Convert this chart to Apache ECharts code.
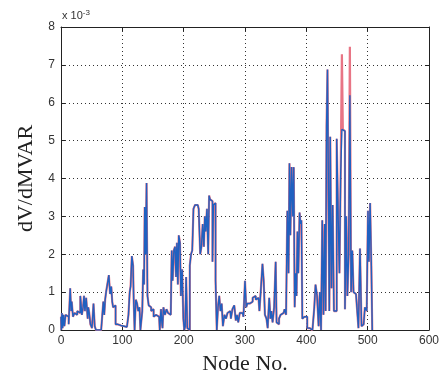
<!DOCTYPE html>
<html>
<head>
<meta charset="utf-8">
<script src="https://cdn.jsdelivr.net/npm/echarts@6/dist/echarts.min.js"></script>
<style>html,body{margin:0;padding:0;background:#fff;}#c{width:442px;height:380px;}</style>
</head>
<body>
<div id="c"></div>
<script>
var nodes = [0,1,2,3,5,6,9,11,14,16,17,18,21,23,25,28,30,33,35,37,38,40,42,43,44,45,47,49,52,54,56,58,63,68,70,71,73,74,77,79,81,83,84,86,88,90,95,100,106,109,111,113,114,117,118,119,121,123,125,127,129,130,132,133,135,136,137,139,140,142,144,146,148,150,152,155,160,162,164,165,166,168,171,173,176,179,180,181,183,185,187,188,190,191,193,195,196,199,200,202,203,205,207,209,211,213,215,217,220,223,226,228,230,232,234,235,237,239,241,242,244,246,248,249,251,253,255,257,259,261,263,265,268,270,273,276,278,281,284,286,288,290,293,296,299,301,303,305,311,314,316,319,322,325,327,330,331,334,336,338,341,342,344,346,349,351,352,354,357,359,363,366,368,370,372,373,375,377,379,380,382,383,385,386,388,390,391,393,394,397,400,403,408,412,414,416,419,421,423,425,427,429,431,432,434,435,437,438,440,442,444,446,448,451,453,455,457,459,460,462,464,466,468,470,472,474,476,478,481,484,486,489,491,493,494,497,500,501,503,505,507,508];
var dvBlue = [0.35,0.0,0.45,0.05,0.4,0.1,0.4,0.35,0.15,1.1,0.5,0.75,0.35,0.45,0.4,0.5,0.45,0.9,0.4,0.6,0.9,0.5,0.85,0.9,0.3,0.6,0.45,0.15,0.05,0.7,0.1,0.0,0.0,0.05,0.75,0.4,0.8,1.0,1.2,1.45,0.95,1.15,0.75,0.6,0.65,0.15,0.12,0.1,0.08,0.05,0.4,1.0,1.15,1.95,1.7,0.8,0.0,0.8,0.7,0.5,0.6,0.0,0.0,0.5,1.6,1.2,3.25,2.0,3.88,0.9,0.65,0.6,0.5,0.55,0.35,0.4,0.35,0.0,0.55,0.2,0.05,0.6,0.4,0.55,0.45,0.4,0.4,2.1,1.3,2.1,2.2,1.4,2.3,1.2,2.5,2.3,0.9,1.6,0.3,0.0,0.1,1.4,0.05,0.0,1.7,2.0,2.1,3.2,3.3,3.3,3.2,2.0,2.2,2.8,2.2,3.0,2.6,3.2,2.0,3.55,3.45,3.4,1.8,3.3,3.35,1.3,0.0,0.6,0.9,0.5,0.7,0.1,0.4,0.3,0.45,0.5,0.3,0.55,0.65,0.25,0.4,0.2,0.45,0.45,0.35,1.3,0.6,0.7,0.75,0.85,0.9,0.8,0.85,0.5,1.1,1.75,1.3,0.4,0.3,0.05,0.85,0.3,0.5,0.2,0.6,1.8,0.2,0.15,0.3,0.4,0.45,0.55,0.4,3.15,1.5,4.4,2.5,4.3,3.0,4.3,0.6,1.5,0.9,2.6,1.5,3.1,2.8,2.9,0.3,0.35,0.35,0.05,0.0,0.05,0.6,1.2,0.9,0.1,1.0,0.0,2.9,0.4,2.8,0.5,5.4,6.88,3.7,0.5,5.1,1.1,3.3,0.5,0.5,5.05,2.9,1.5,4.1,5.3,5.3,5.25,0.55,3.0,0.9,2.0,6.2,1.0,2.1,1.0,0.95,0.6,0.05,2.15,0.1,0.15,0.2,0.6,0.5,3.15,1.8,3.35,1.7,0.0];
var redPeakNodes = [459, 472];
var redPeakValues = [7.28, 7.48];
var xTicks = [0,100,200,300,400,500,600];
var yTicks = [0,1,2,3,4,5,6,7,8];

var blueData = nodes.map(function(n,i){return [n, dvBlue[i]];});
var redData = nodes.map(function(n,i){
  var k = redPeakNodes.indexOf(n);
  return [n, k >= 0 ? redPeakValues[k] : dvBlue[i]];
});

var chart = echarts.init(document.getElementById('c'));
var tickLbl = {fontFamily:'Liberation Sans, Arial, sans-serif', fontSize:12, color:'#333'};
var gridLine = {show:true, lineStyle:{color:'#333', type:[1,3], width:1}};
chart.setOption({
  animation:false,
  backgroundColor:'#ffffff',
  grid:{left:61, right:10, top:27, bottom:43, show:false},
  xAxis:[{
    type:'value', min:0, max:600, interval:100,
    name:'Node No.', nameLocation:'middle', nameGap:23,
    nameTextStyle:{fontFamily:'Liberation Serif, Times New Roman, serif', fontSize:22, color:'#222'},
    axisLine:{show:true, onZero:false, lineStyle:{color:'#222', width:1}},
    axisTick:{show:true, inside:true, length:4, lineStyle:{color:'#222'}},
    axisLabel:Object.assign({margin:5}, tickLbl),
    splitLine:gridLine
  },{
    type:'value', min:0, max:600, interval:100, position:'top',
    axisLine:{show:true, onZero:false, lineStyle:{color:'#222', width:1}},
    axisTick:{show:true, inside:true, length:4, lineStyle:{color:'#222'}},
    axisLabel:{show:false}, splitLine:{show:false}
  }],
  yAxis:[{
    type:'value', min:0, max:8, interval:1,
    name:'dV/dMVAR', nameLocation:'middle', nameGap:14,
    nameTextStyle:{fontFamily:'Liberation Serif, Times New Roman, serif', fontSize:22, color:'#222'},
    axisLine:{show:true, onZero:false, lineStyle:{color:'#222', width:1}},
    axisTick:{show:true, inside:true, length:4, lineStyle:{color:'#222'}},
    axisLabel:Object.assign({margin:6}, tickLbl),
    splitLine:gridLine
  },{
    type:'value', min:0, max:8, interval:1, position:'right',
    axisLine:{show:true, onZero:false, lineStyle:{color:'#222', width:1}},
    axisTick:{show:true, inside:true, length:4, lineStyle:{color:'#222'}},
    axisLabel:{show:false}, splitLine:{show:false}
  }],
  graphic:[{
    type:'text', left:62, top:9,
    style:{rich:{a:{fontFamily:'Liberation Sans, Arial, sans-serif', fontSize:11, fill:'#333'}, b:{fontFamily:'Liberation Sans, Arial, sans-serif', fontSize:8, fill:'#333', verticalAlign:'top', padding:[0,0,6,0]}},
      text:'{a|x 10}{b|-3}'}
  }],
  series:[{
    type:'line', data:redData, showSymbol:false, symbol:'none', step:'middle',
    lineStyle:{color:'#e87585', width:2.2}, z:2
  },{
    type:'line', data:blueData, showSymbol:false, symbol:'none', step:'middle',
    lineStyle:{color:'#2060c0', width:1.4}, z:3
  }]
});
</script>
</body>
</html>
